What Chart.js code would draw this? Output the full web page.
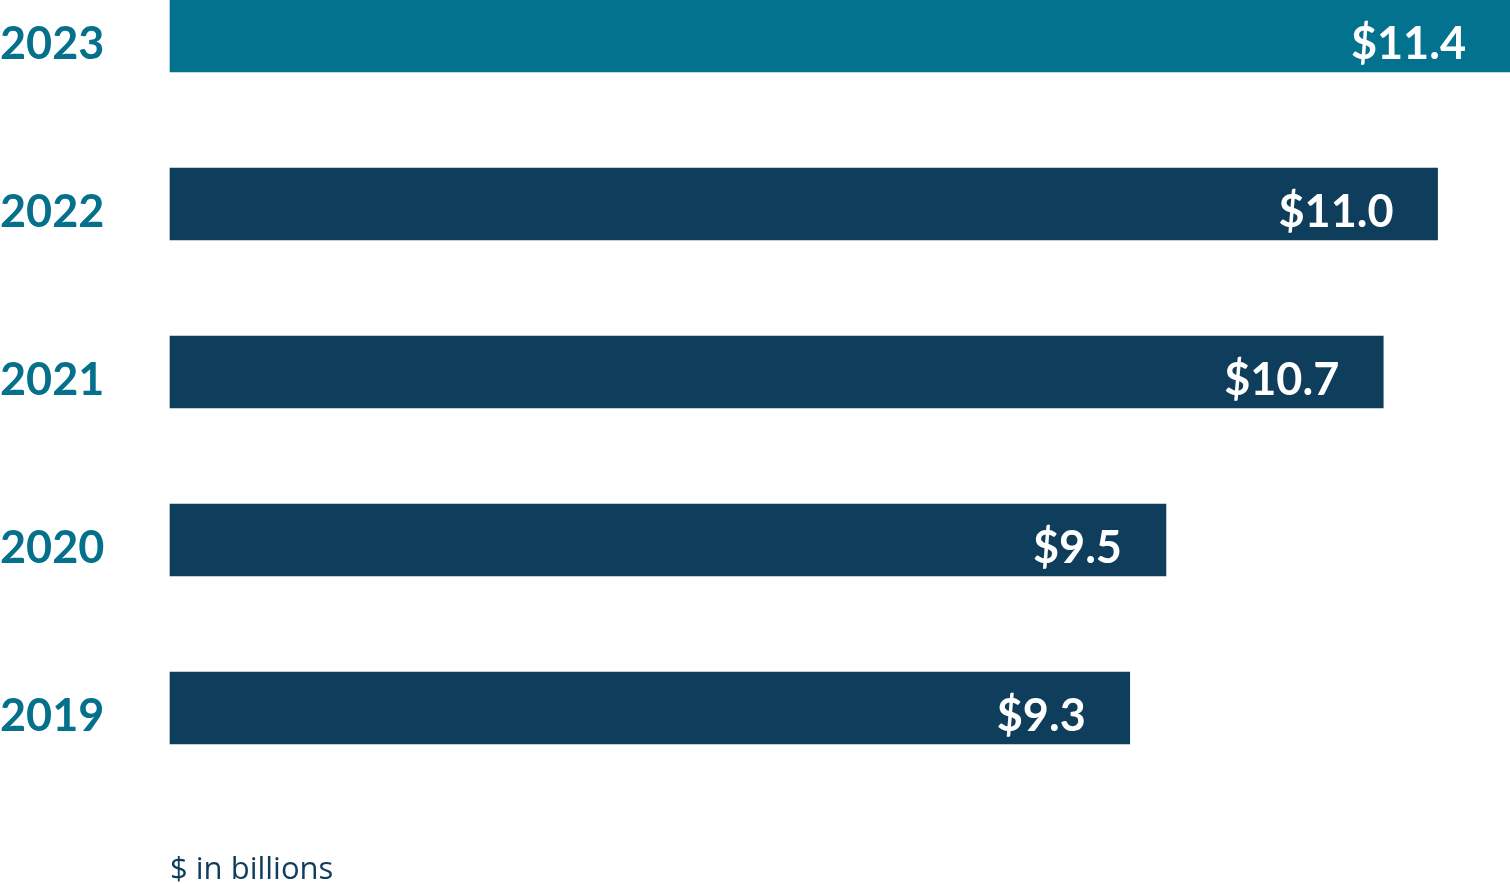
<!DOCTYPE html>
<html>
<head>
<meta charset="utf-8">
<script src="https://cdn.jsdelivr.net/npm/chart.js@4"></script>
<style>
  html, body { margin: 0; padding: 0; background: #fff; }
  #wrap { width: 1510px; height: 884px; position: relative; }
</style>
</head>
<body>
<div id="wrap"><canvas id="grafik"></canvas></div>
<script>
// data
const tahun = ['2023', '2022', '2021', '2020', '2019'];
const nilai = [11.4, 11.0, 10.7, 9.5, 9.3];
const catatan = '$ in billions';

const warnaBatang = ['#03728f', '#0f3d5c', '#0f3d5c', '#0f3d5c', '#0f3d5c'];
const warnaTahun = '#05708b';
const fontUtama = 'Lato, "Open Sans", sans-serif';

// label nilai putih di ujung batang + catatan di bawah
const labelNilai = {
    id: 'labelNilai',
    afterDatasetsDraw(chart) {
        const c = chart.ctx;
        const meta = chart.getDatasetMeta(0);
        c.save();
        c.fillStyle = '#ffffff';
        c.font = 'bold 45px ' + fontUtama;
        c.textAlign = 'right';
        c.textBaseline = 'middle';
        meta.data.forEach((bar, i) => {
            c.fillText('$' + nilai[i].toFixed(1), bar.x - 44, bar.y + 8);
        });
        c.fillStyle = '#0f3d5c';
        c.font = '31px "Open Sans", sans-serif';
        c.textAlign = 'left';
        c.textBaseline = 'alphabetic';
        c.fillText(catatan, chart.chartArea.left, 879);
        c.restore();
    }
};

const ctx = document.getElementById('grafik').getContext('2d');
const grafik = new Chart(ctx, {
    type: 'bar',
    data: {
        labels: tahun,
        datasets: [{
            data: nilai,
            base: 4,
            backgroundColor: warnaBatang,
            barThickness: 72,
            borderWidth: 0,
            clip: false
        }]
    },
    options: {
        indexAxis: 'y',
        responsive: true,
        maintainAspectRatio: false,
        animation: false,
        layout: {
            padding: { top: 36, bottom: 176, left: 0, right: 0 }
        },
        plugins: {
            legend: { display: false },
            tooltip: { enabled: false }
        },
        scales: {
            x: {
                display: false,
                min: 4,
                max: 11.4
            },
            y: {
                offset: false,
                grid: { display: false },
                border: { display: false },
                ticks: {
                    color: warnaTahun,
                    font: { family: fontUtama, size: 45, weight: 'bold' },
                    crossAlign: 'far',
                    padding: 0,
                    labelOffset: 8
                },
                afterFit(scale) {
                    scale.width = 170;
                }
            }
        }
    },
    plugins: [labelNilai]
});
</script>
</body>
</html>
